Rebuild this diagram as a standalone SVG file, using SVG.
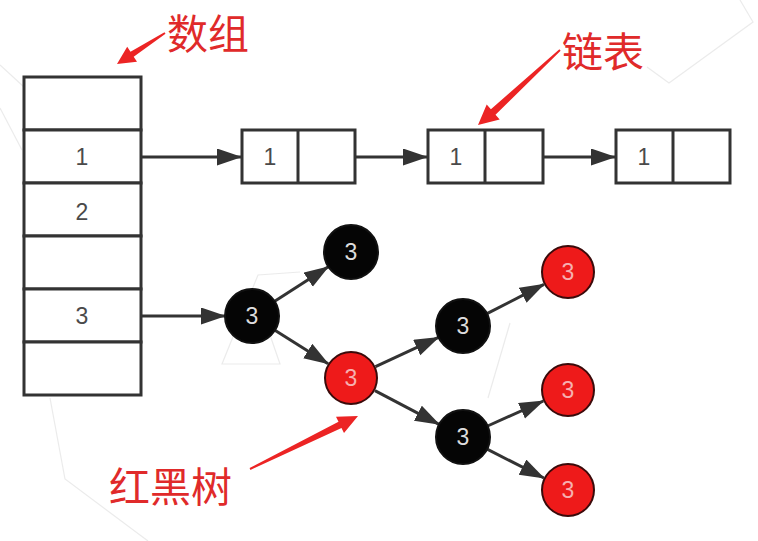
<svg xmlns="http://www.w3.org/2000/svg" width="758" height="541" viewBox="0 0 758 541">
<style>
.cell{fill:#fff;stroke:#333;stroke-width:3}
.num{font-family:"Liberation Sans",Arial,sans-serif;font-size:23px;fill:#4a4a4a;text-anchor:middle}
.conn{stroke:#333;stroke-width:3;fill:none}
.blk{fill:#050505;stroke:#111;stroke-width:2}
.red{fill:#ee1a1a;stroke:#3a0a0a;stroke-width:2}
.nt{font-family:"Liberation Sans",Arial,sans-serif;font-size:23px;text-anchor:middle}
.bt{fill:#ddd}
.rt{fill:#f6b0b0}
.ann{font-family:"Noto Sans CJK SC","Noto Sans CJK JP",sans-serif;font-size:41px;fill:#e02a2a}
.annar{fill:#ec2424}
.faint{stroke:#ddd;stroke-width:1.2;fill:none;opacity:0.6}
</style>
<defs>
<marker id="ah" markerUnits="userSpaceOnUse" markerWidth="26" markerHeight="18" refX="24" refY="8.5" orient="auto">
<path d="M0,0 L25,8.5 L0,17 z" fill="#333"/>
</marker>
</defs>
<rect width="758" height="541" fill="#fff"/>
<g id="background">
<polyline class="faint" points="0,65 24,87"/>
<polyline class="faint" points="0,108 22,150"/>
<polyline class="faint" points="50,398 65,479 148,541"/>
<polyline class="faint" points="647,67 669,83 753,22 740,0"/>
<polyline class="faint" points="300,272 258,275 222,364 280,364 270,335"/>
<polyline class="faint" points="510,323 488,398"/>
</g>
<g id="array">
<rect class="cell" x="24" y="77" width="117" height="53"/>
<rect class="cell" x="24" y="130" width="117" height="53"/>
<rect class="cell" x="24" y="183" width="117" height="53"/>
<rect class="cell" x="24" y="236" width="117" height="53"/>
<rect class="cell" x="24" y="289" width="117" height="53"/>
<rect class="cell" x="24" y="342" width="117" height="53"/>
<text class="num" x="82" y="165">1</text>
<text class="num" x="82" y="220">2</text>
<text class="num" x="82" y="324">3</text>
</g>
<g id="list1">
<rect class="cell" x="242" y="130" width="113" height="53"/>
<line x1="298" y1="130" x2="298" y2="183" stroke="#333" stroke-width="3"/>
<text class="num" x="270" y="165">1</text>
</g>
<g id="list2">
<rect class="cell" x="428" y="130" width="115" height="53"/>
<line x1="485" y1="130" x2="485" y2="183" stroke="#333" stroke-width="3"/>
<text class="num" x="456" y="165">1</text>
</g>
<g id="list3">
<rect class="cell" x="616" y="130" width="114" height="53"/>
<line x1="673" y1="130" x2="673" y2="183" stroke="#333" stroke-width="3"/>
<text class="num" x="644" y="165">1</text>
</g>
<g id="connectors">
<line class="conn" x1="141" y1="157" x2="241" y2="157" marker-end="url(#ah)"/>
<line class="conn" x1="355" y1="157" x2="427" y2="157" marker-end="url(#ah)"/>
<line class="conn" x1="543" y1="157" x2="615" y2="157" marker-end="url(#ah)"/>
<line class="conn" x1="141" y1="316" x2="225" y2="316" marker-end="url(#ah)"/>
<line class="conn" x1="274.7" y1="301.3" x2="328.3" y2="266.7" marker-end="url(#ah)"/>
<line class="conn" x1="274.9" y1="330.3" x2="328.1" y2="363.7" marker-end="url(#ah)"/>
<line class="conn" x1="375.5" y1="366.6" x2="438.5" y2="337.4" marker-end="url(#ah)"/>
<line class="conn" x1="374.9" y1="390.6" x2="439.1" y2="424.4" marker-end="url(#ah)"/>
<line class="conn" x1="487" y1="313.7" x2="544" y2="284.3" marker-end="url(#ah)"/>
<line class="conn" x1="487.6" y1="426" x2="543.4" y2="401" marker-end="url(#ah)"/>
<line class="conn" x1="487.1" y1="449.2" x2="543.9" y2="478" marker-end="url(#ah)"/>
</g>
<g id="root"><circle class="blk" cx="252" cy="316" r="27"/><text class="nt bt" x="252" y="324">3</text></g>
<g id="b-top"><circle class="blk" cx="351" cy="252" r="27"/><text class="nt bt" x="351" y="260">3</text></g>
<g id="r-mid"><circle class="red" cx="351" cy="378" r="26"/><text class="nt rt" x="351" y="386">3</text></g>
<g id="b1"><circle class="blk" cx="463" cy="326" r="27"/><text class="nt bt" x="463" y="334">3</text></g>
<g id="b2"><circle class="blk" cx="463" cy="437" r="27"/><text class="nt bt" x="463" y="445">3</text></g>
<g id="r1"><circle class="red" cx="568" cy="272" r="26"/><text class="nt rt" x="568" y="280">3</text></g>
<g id="r2"><circle class="red" cx="568" cy="390" r="26"/><text class="nt rt" x="568" y="398">3</text></g>
<g id="r3"><circle class="red" cx="568" cy="490" r="26"/><text class="nt rt" x="568" y="498">3</text></g>
<g id="label-array">
<text class="ann" x="167" y="49">数组</text>
<polygon class="annar" points="165.5,33.8 133.7,56.7 137,61.7 117,64 127.2,46.7 130.5,51.7 164.5,32.2"/>
</g>
<g id="label-list">
<text class="ann" x="562" y="67">链表</text>
<polygon class="annar" points="560.6,50.8 495.5,114.7 499.7,119.6 478,125 486.7,104.4 490.9,109.3 559.4,49.2"/>
</g>
<g id="label-rbtree">
<text class="ann" x="109" y="502">红黑树</text>
<polygon class="annar" points="250.4,469.9 341.5,427.9 344,432.9 358,416 336,416.7 338.5,421.7 249.6,468.1"/>
</g>
</svg>
